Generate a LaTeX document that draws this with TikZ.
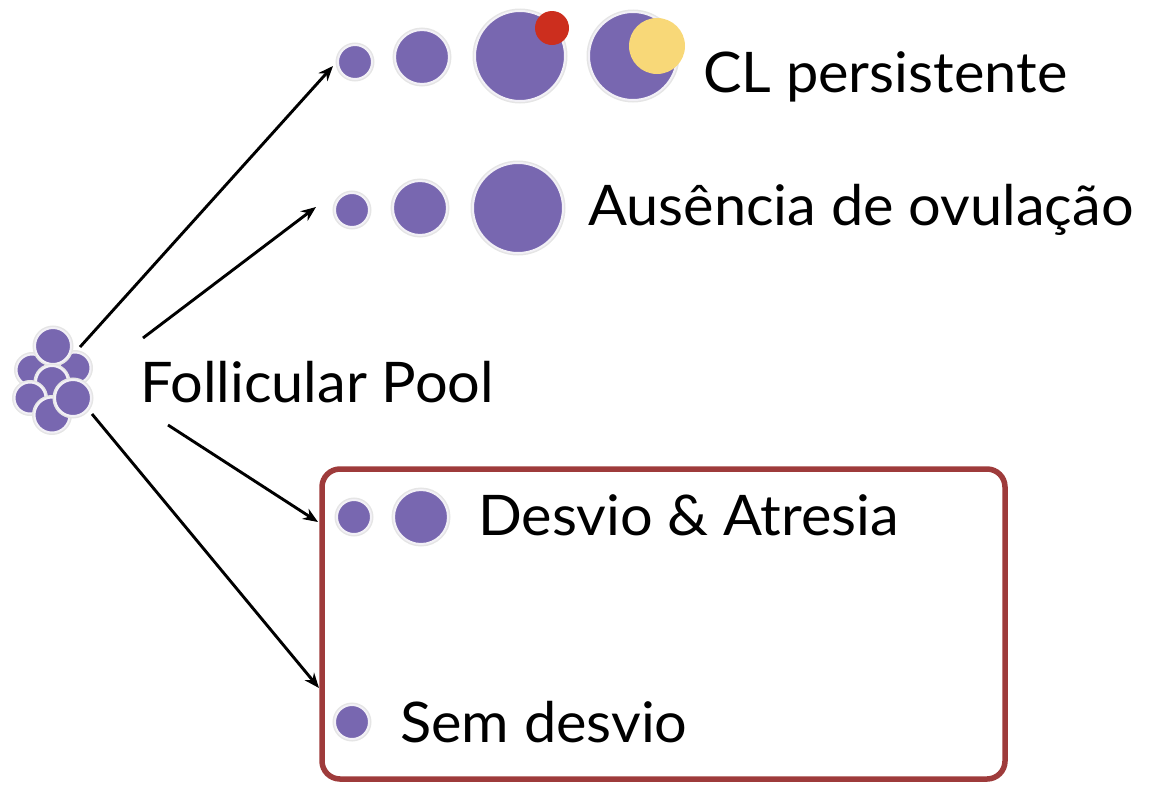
\documentclass[tikz,border=0pt]{standalone}
\usepackage{fontspec}
\setmainfont[FakeStretch=1.03]{Lato}
\usetikzlibrary{arrows.meta}
\definecolor{folpurple}{HTML}{7867B0}
\definecolor{folhalo}{HTML}{F2F0F6}
\definecolor{clred}{HTML}{CC2E1E}
\definecolor{clyellow}{HTML}{F8D878}
\definecolor{boxred}{HTML}{9E3B3B}
\begin{document}
\begin{tikzpicture}[x=1pt,y=-1pt,
  fol/.style={circle, fill=folpurple, draw=folhalo, line width=2pt, inner sep=0pt,
    preaction={draw=black!10, line width=5pt}},
  spot/.style={circle, inner sep=0pt},
  lbl/.style={anchor=base west, inner sep=0pt, font=\fontsize{56}{60}\selectfont},
  arr/.style={-{Stealth[length=15pt,width=12pt]}, line width=2.9pt, black},
  boxst/.style={draw=boxred, line width=5.5pt, rounded corners=18pt, inner sep=0pt}]
\useasboundingbox (0,0) rectangle (1151,785);
% follicular pool cluster
\node[fol, minimum size=31pt] (p1) at (32,370) {};
\node[fol, minimum size=31pt] (p2) at (75,368) {};
\node[fol, minimum size=36pt] (p3) at (53,346) {};
\node[fol, minimum size=32pt] (p4) at (52,382) {};
\node[fol, minimum size=31pt] (p5) at (30,398) {};
\node[fol, minimum size=35pt] (p6) at (52,415) {};
\node[fol, minimum size=36pt] (p7) at (73,398) {};
\node[lbl] (pool) at (140,402) {Follicular Pool};
% row 1
\node[fol, minimum size=34pt] (a1) at (355,62) {};
\node[fol, minimum size=54pt] (a2) at (422,57) {};
\node[fol, minimum size=90pt] (a3) at (520,56) {};
\node[spot, fill=clred, minimum size=34pt] (a3s) at (552,28) {};
\node[fol, minimum size=88pt] (a4) at (633,56) {};
\node[spot, fill=clyellow, minimum size=56pt] (a4s) at (657,46) {};
\node[lbl] (t1) at (703,92) {CL persistente};
% row 2
\node[fol, minimum size=34pt] (b1) at (352,210) {};
\node[fol, minimum size=54pt] (b2) at (420,208) {};
\node[fol, minimum size=90pt] (b3) at (518,208) {};
\node[lbl] (t2) at (588,225) {Ausência de ovulação};
% box
\node[boxst, minimum width=683pt, minimum height=310pt] (box) at (663.5,624) {};
\node[fol, minimum size=34pt] (d1) at (354,517) {};
\node[fol, minimum size=54pt] (d2) at (421,517) {};
\node[lbl] (t3) at (478,535) {Desvio \& Atresia};
\node[fol, minimum size=34pt] (e1) at (352,722) {};
\node[lbl] (t4) at (400,742) {Sem desvio};
% arrows
\coordinate (s1) at (80,347);
\coordinate (s2) at (143,338);
\coordinate (s3) at (168,425);
\coordinate (s4) at (92,414);
\coordinate (e1t) at (333,66);
\coordinate (e2t) at (316,207);
\coordinate (e3t) at (318,522);
\coordinate (e4t) at (319,688);
\draw[arr] (s1) -- (e1t);
\draw[arr] (s2) -- (e2t);
\draw[arr] (s3) -- (e3t);
\draw[arr] (s4) -- (e4t);
\end{tikzpicture}
\end{document}
